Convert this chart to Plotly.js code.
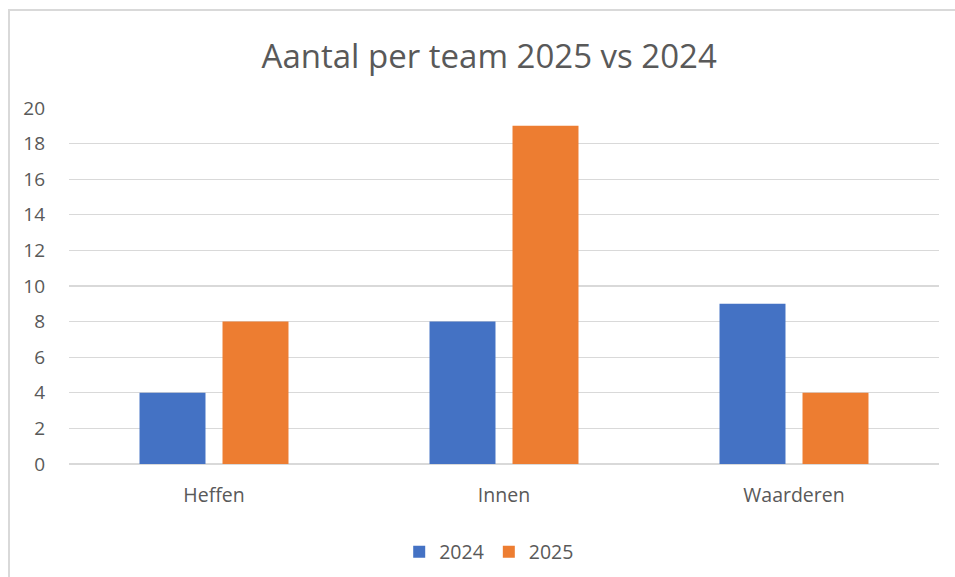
<!DOCTYPE html>
<html>
<head>
<meta charset="utf-8">
<script src="https://cdn.plot.ly/plotly-3.0.1.min.js"></script>
<style>
  html, body { margin: 0; padding: 0; background: #fff; overflow: hidden; }
  #frame { position: absolute; left: 8px; top: 9px; width: 970px; height: 600px; border: 2px solid #d9d9d9; box-sizing: border-box; pointer-events: none; }
  #chart { position: absolute; left: 0; top: 0; width: 955px; height: 577px; }
</style>
</head>
<body>
<div id="chart"></div>
<div id="frame"></div>
<script>
const categories = ["Heffen", "Innen", "Waarderen"];
const series2024 = [4, 8, 9];
const series2025 = [8, 19, 4];
const seriesNames = ["2024", "2025"];
const yTicks = [0, 2, 4, 6, 8, 10, 12, 14, 16, 18, 20];

const fontFam = "Open Sans, Noto Sans, sans-serif";
const txt = "#595959";

const data = [
  { type: "bar", name: seriesNames[0], x: categories, y: series2024, marker: { color: "#4472C4" }, hoverinfo: "none" },
  { type: "bar", name: seriesNames[1], x: categories, y: series2025, marker: { color: "#ED7D31" }, hoverinfo: "none" }
];

const layout = {
  width: 955, height: 577,
  margin: { l: 69, r: 16, t: 108, b: 113 },
  paper_bgcolor: "#ffffff", plot_bgcolor: "#ffffff",
  barmode: "group", bargap: 0.4276, bargroupgap: 0.205,
  font: { family: fontFam, color: txt },
  title: { text: "Aantal per team 2025 vs 2024", font: { size: 33, color: txt, family: fontFam }, x: 0.483, xref: "paper", xanchor: "center", y: 0.903, yref: "container", yanchor: "middle" },
  xaxis: { type: "category", showgrid: false, zeroline: false, showline: false, ticks: "", tickfont: { size: 19.5, color: txt }, ticklabelstandoff: 17, fixedrange: true, automargin: false },
  yaxis: { range: [0, 20], tickvals: yTicks, ticktext: yTicks.map(String), showgrid: true, gridcolor: "#d9d9d9", gridwidth: 1.3, zeroline: true, zerolinecolor: "#d9d9d9", zerolinewidth: 1.5, showline: false, ticks: "", tickfont: { size: 19, color: txt }, ticklabelstandoff: 23, fixedrange: true, automargin: false },
  showlegend: true,
  legend: { orientation: "h", x: 0.483, xanchor: "center", yref: "container", y: 0.043, yanchor: "middle", font: { size: 19.5, color: txt }, itemwidth: 30, traceorder: "normal" }
};

Plotly.newPlot("chart", data, layout, { displayModeBar: false, staticPlot: true });
</script>
</body>
</html>
